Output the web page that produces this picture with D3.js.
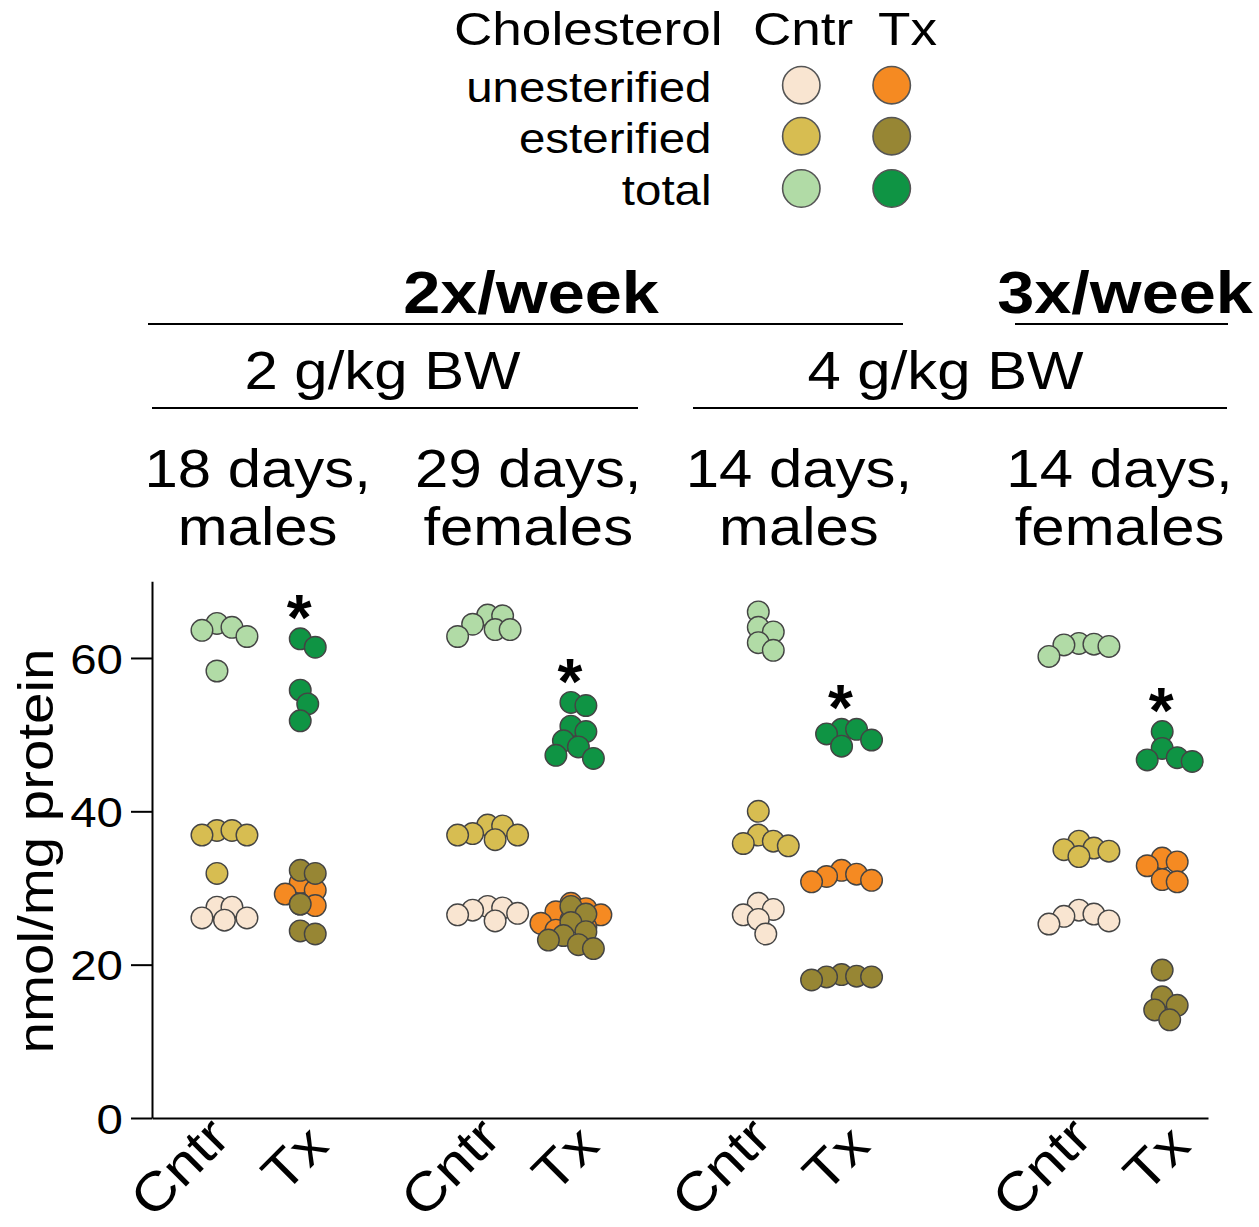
<!DOCTYPE html>
<html>
<head>
<meta charset="utf-8">
<script src="https://cdn.jsdelivr.net/npm/d3@7"></script>
<style>
  body { margin: 0; background: #fff; }
  svg { display: block; }
  text { font-family: "Liberation Sans", Arial, Helvetica, sans-serif; fill: #000; }
</style>
</head>
<body>
<svg id="chart" width="1259" height="1227"></svg>
<script>
// ---------------- data ----------------
const groupLine1 = ["18 days,", "29 days,", "14 days,", "14 days,"];
const groupLine2 = ["males", "females", "males", "females"];
const conditions = ["Cntr", "Tx"];
const seriesNames = ["unesterified", "esterified", "total"];
const legendTitle = "Cholesterol";
const doseLabels = ["2 g/kg BW", "4 g/kg BW"];
const freqLabels = ["2x/week", "3x/week"];
const yTicks = [0, 20, 40, 60];
const yLabel = "nmol/mg protein";

// values per group (nmol/mg protein)
const cntrUnesterified = [
  [26.1, 27.5, 26.1, 27.5, 25.8],
  [26.5, 27.6, 26.7, 27.4, 25.7, 27.1],
  [28.0, 26.5, 27.2, 25.9, 24.0],
  [27.1, 25.7, 26.3, 26.6, 25.3]
];
const txUnesterified = [
  [30.7, 29.2, 29.7, 27.9, 27.7],
  [28.0, 27.3, 25.8, 24.5, 25.4, 26.5, 26.9, 24.9],
  [32.3, 31.8, 31.0, 31.5, 30.8],
  [33.4, 33.9, 32.9, 30.8, 31.1]
];
const cntrEsterified = [
  [36.9, 37.5, 36.9, 37.5, 31.9],
  [36.9, 38.2, 36.9, 38.1, 36.3, 37.1],
  [40.0, 36.9, 35.5, 35.8, 36.1],
  [36.1, 34.8, 35.0, 35.2, 34.1]
];
const txEsterified = [
  [32.3, 31.9, 27.9, 24.0, 24.4],
  [27.6, 26.6, 23.2, 24.3, 22.1, 22.6, 25.5, 23.8],
  [18.4, 18.7, 18.4, 18.5, 18.0],
  [19.3, 15.8, 14.7, 12.8, 14.1]
];
const cntrTotal = [
  [62.8, 64.5, 63.6, 64.0, 58.3],
  [65.6, 65.5, 64.4, 63.7, 63.7, 62.8],
  [66.0, 63.4, 64.0, 62.0, 61.0],
  [61.5, 61.9, 61.7, 61.8, 60.2]
];
const txTotal = [
  [61.4, 62.5, 55.8, 54.0, 51.8],
  [53.8, 54.2, 50.4, 51.1, 49.2, 48.4, 46.9, 47.3],
  [50.7, 50.7, 49.3, 50.1, 48.5],
  [50.4, 48.2, 46.5, 46.7, 47.0]
];
// Tx total significantly different from Cntr (asterisk)
const significant = [true, true, true, true];

// ---------------- styles / layout ----------------
const palette = {
  Cntr: ["#f9e5d1", "#d7bd51", "#b1dba6"],
  Tx:   ["#f58a22", "#978634", "#0f9444"]
};
const seriesData = {
  Cntr: [cntrUnesterified, cntrEsterified, cntrTotal],
  Tx:   [txUnesterified, txEsterified, txTotal]
};
const SX = 1.13;          // horizontal stretch of the lettering
const R = 10.8;           // dot radius
const MIN_DIST = 15;      // beeswarm minimum centre distance (dots overlap a bit)
const STEP = 7.5;         // beeswarm horizontal step
const groupStart = [0, 3.25, 6.5, 10.35];  // category slots along x

const svg = d3.select("#chart");

const x = d3.scaleLinear().domain([-0.78, 11.9]).range([152, 1208]);
const y = d3.scaleLinear().domain([0, 70]).range([1118, 581.3]);

function label(parent, str, px, py, o = {}) {
  const g = parent.append("g")
    .attr("transform", `translate(${px},${py}) rotate(${o.rotate || 0}) scale(${SX},1)`);
  g.append("text")
    .attr("text-anchor", o.anchor || "start")
    .attr("font-size", o.size || 40)
    .attr("font-weight", o.weight || "normal")
    .text(str);
  return g;
}

// ---------------- legend ----------------
const lg = svg.append("g");
label(lg, legendTitle, 454, 44.5, { size: 47 });
label(lg, conditions[0], 753, 44.5, { size: 47 });
label(lg, conditions[1], 878, 44.5, { size: 47 });
const legRowsY = [101.7, 152.7, 205];
const legDotX = { Cntr: 801.3, Tx: 891.7 };
seriesNames.forEach((s, i) => {
  label(lg, s, 711.5, legRowsY[i], { size: 42, anchor: "end" });
  conditions.forEach(c => {
    lg.append("circle")
      .attr("cx", legDotX[c]).attr("cy", legRowsY[i] - 16.5)
      .attr("r", 18.7)
      .attr("fill", palette[c][i])
      .attr("stroke", "#555").attr("stroke-width", 1.6);
  });
});

// ---------------- header annotations ----------------
const hd = svg.append("g");
label(hd, freqLabels[0], 531, 313, { size: 59, weight: "bold", anchor: "middle" });
label(hd, freqLabels[1], 1125, 313, { size: 59, weight: "bold", anchor: "middle" });
[[148, 903], [1015, 1228]].forEach(([a, b]) =>
  hd.append("line").attr("x1", a).attr("x2", b).attr("y1", 324).attr("y2", 324)
    .attr("stroke", "#000").attr("stroke-width", 2.2));
label(hd, doseLabels[0], 382.5, 389, { size: 53, anchor: "middle" });
label(hd, doseLabels[1], 945.5, 389, { size: 53, anchor: "middle" });
[[152, 638], [693, 1227]].forEach(([a, b]) =>
  hd.append("line").attr("x1", a).attr("x2", b).attr("y1", 408).attr("y2", 408)
    .attr("stroke", "#000").attr("stroke-width", 2.2));
groupLine1.forEach((t, g) => {
  const cx = (x(groupStart[g]) + x(groupStart[g] + 1)) / 2;
  label(hd, t, cx - 1, 487, { size: 53, anchor: "middle" });
  label(hd, groupLine2[g], cx - 1, 545, { size: 53, anchor: "middle" });
});

// ---------------- axes ----------------
const catPos = [];
const catLab = [];
groupStart.forEach(s => { catPos.push(s, s + 1); catLab.push(conditions[0], conditions[1]); });

const yAxis = svg.append("g").attr("transform", `translate(${x(-0.78)},0)`)
  .call(d3.axisLeft(y).tickValues(yTicks).tickSize(21).tickSizeOuter(0).tickPadding(7));
yAxis.select(".domain").attr("stroke", "#000").attr("stroke-width", 2);
yAxis.selectAll(".tick line").attr("stroke", "#000").attr("stroke-width", 2);
yAxis.selectAll(".tick text")
  .attr("font-size", 42).attr("font-family", null).attr("fill", "#000")
  .attr("x", 0).attr("dy", "0.36em")
  .attr("transform", `translate(-29,0) scale(${SX},1)`);

const xAxis = svg.append("g").attr("transform", `translate(0,${y(0)})`)
  .call(d3.axisBottom(x).tickValues(catPos).tickFormat((d, i) => catLab[i]).tickSize(0).tickSizeOuter(0));
xAxis.select(".domain").attr("stroke", "#000").attr("stroke-width", 2);
xAxis.selectAll(".tick text")
  .attr("font-size", 53).attr("font-family", null).attr("fill", "#000")
  .attr("text-anchor", "end").attr("x", 0).attr("y", 0).attr("dy", 0)
  .attr("transform", (d, i) => i % 2
    ? `translate(30,30) rotate(-45) scale(${SX},1)`
    : `translate(15,22) rotate(-45) scale(${SX},1)`);

// y title
label(svg, yLabel, 53, 851, { size: 50, anchor: "middle", rotate: -90 });

// ---------------- dots (beeswarm) ----------------
function swarm(vals, cx) {
  const pts = vals.map(v => ({ v, py: y(v) })).sort((a, b) => a.py - b.py);
  const placed = [];
  pts.forEach(p => {
    for (let k = 0; k < 60; k++) {
      const off = k === 0 ? 0 : (k % 2 ? 1 : -1) * Math.ceil(k / 2) * STEP;
      const px = cx + off;
      if (placed.every(q => Math.hypot(q.px - px, q.py - p.py) >= MIN_DIST)) { p.px = px; break; }
    }
    placed.push(p);
  });
  return pts;
}

const dots = svg.append("g");
groupStart.forEach((s, g) => {
  conditions.forEach((c, ci) => {
    const cx = x(s + ci);
    seriesNames.forEach((name, si) => {
      const pts = swarm(seriesData[c][si][g], cx);
      dots.selectAll(null).data(pts).enter().append("circle")
        .attr("cx", d => d.px).attr("cy", d => d.py).attr("r", R)
        .attr("fill", palette[c][si])
        .attr("stroke", "#444").attr("stroke-width", 1.4);
    });
  });
  if (significant[g]) {
    const top = d3.max(txTotal[g]);
    const cy = y(top) - R - 22;
    dots.append("text").attr("x", x(s + 1) - 1).attr("y", cy + 34)
      .attr("text-anchor", "middle").attr("font-size", 64).attr("font-weight", "bold")
      .text("*");
  }
});
</script>
</body>
</html>
